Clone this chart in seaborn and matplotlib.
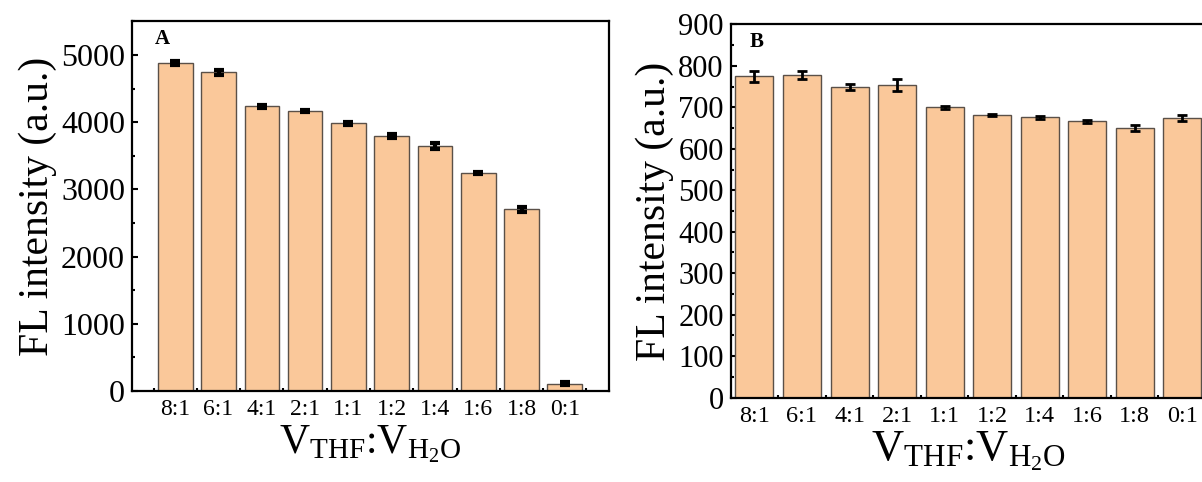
import numpy as np
import pandas as pd
import matplotlib
matplotlib.use('Agg')
import matplotlib.pyplot as plt
import seaborn as sns
from matplotlib.ticker import MultipleLocator, FixedLocator

# THF : H2O volume ratios
ratios = ['8:1', '6:1', '4:1', '2:1', '1:1', '1:2', '1:4', '1:6', '1:8', '0:1']

# panel A
fl_a = [4885, 4742, 4237, 4167, 3983, 3799, 3650, 3244, 2704, 110]
err_a = [30, 35, 25, 15, 25, 28, 45, 15, 38, 28]

# panel B
fl_b = [775, 777, 749, 754, 700, 681, 676, 666, 651, 674]
err_b = [13, 10, 8, 15, 3, 3, 4, 4, 7, 8]

sns.set_theme(style='ticks')
plt.rcParams['font.family'] = ['Liberation Serif', 'DejaVu Serif']
plt.rcParams['mathtext.fontset'] = 'custom'
plt.rcParams['mathtext.rm'] = 'Liberation Serif'
plt.rcParams['mathtext.it'] = 'Liberation Serif:italic'
plt.rcParams['mathtext.bf'] = 'Liberation Serif:bold'
plt.rcParams['axes.edgecolor'] = 'black'
plt.rcParams['text.color'] = 'black'
plt.rcParams['xtick.color'] = 'black'
plt.rcParams['ytick.color'] = 'black'
plt.rcParams['axes.labelcolor'] = 'black'

bar_color = '#FAC89A'
xlab = r'$\mathregular{V_{THF}}$:$\mathregular{V_{H_2O}}$'

fig = plt.figure(figsize=(12.02, 4.82), dpi=100)
ax1 = fig.add_axes([0.1098, 0.1888, 0.3968, 0.767])
ax2 = fig.add_axes([0.6079, 0.1749, 0.3954, 0.7747])


def draw_panel(ax, vals, errs, ylim, ystep, xlim, letter, lx, ly,
               ysize, xsize, labsize, ecap, csize):
    df = pd.DataFrame({'ratio': ratios, 'fl': vals})
    sns.barplot(data=df, x='ratio', y='fl', color=bar_color, saturation=1,
                width=0.8, edgecolor='#5a5048', linewidth=1, errorbar=None, ax=ax)
    ax.errorbar(np.arange(len(ratios)), vals, yerr=errs, fmt='none',
                ecolor='black', elinewidth=ecap, capsize=csize, capthick=ecap)
    ax.set_xlim(*xlim)
    ax.set_ylim(*ylim)
    ax.yaxis.set_major_locator(MultipleLocator(ystep))
    ax.yaxis.set_minor_locator(MultipleLocator(ystep / 2))
    ax.xaxis.set_minor_locator(FixedLocator(np.arange(-0.5, len(ratios), 1)))
    ax.tick_params(which='major', direction='in', length=4.5, width=1.5)
    ax.tick_params(which='minor', direction='in', length=2, width=1.5)
    ax.tick_params(axis='y', labelsize=ysize, pad=5)
    ax.tick_params(axis='x', labelsize=xsize, pad=6)
    for sp in ax.spines.values():
        sp.set_linewidth(1.6)
    ax.set_xlabel(xlab, fontsize=labsize, labelpad=2)
    ax.set_ylabel('FL intensity (a.u.)', fontsize=30, labelpad=3)
    ax.text(lx, ly, letter, transform=ax.transAxes, fontsize=15,
            fontweight='bold', va='top', ha='left')


draw_panel(ax1, fl_a, err_a, (0, 5500), 1000, (-1, 10.02), 'A', 0.048, 0.978,
           23, 17, 30, 3, 3.8)
draw_panel(ax2, fl_b, err_b, (0, 900), 100, (-0.5, 9.5), 'B', 0.04, 0.98,
           22, 17.5, 32, 2, 3.5)

fig.savefig('out.png', dpi=100)
